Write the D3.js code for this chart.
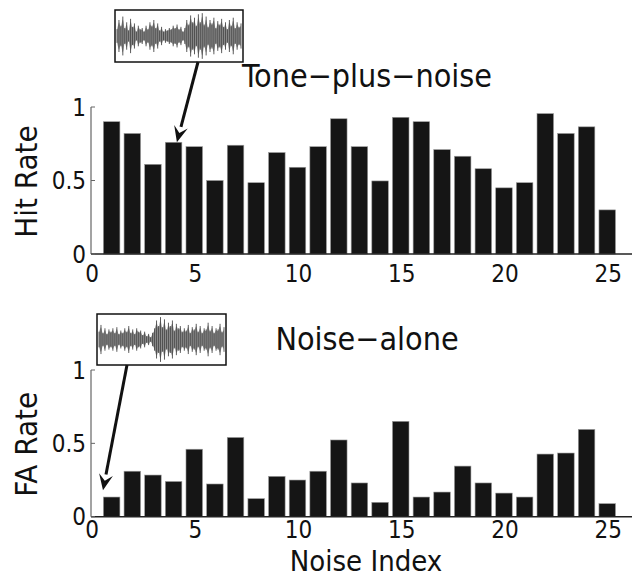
<!DOCTYPE html>
<html>
<head>
<meta charset="utf-8">
<script src="https://cdn.jsdelivr.net/npm/d3@7"></script>
<style>
  body { margin: 0; background: #fff; }
  text { font-family: "DejaVu Sans Condensed", "DejaVu Sans", sans-serif; font-stretch: condensed; fill: #111; }
</style>
</head>
<body>
<svg id="fig"></svg>
<script>
// figure: hit rate / FA rate par index de bruit

const noiseIndex = d3.range(1, 26);
const hitRate = [0.90, 0.82, 0.61, 0.76, 0.73, 0.50, 0.74, 0.485, 0.69, 0.59,
                 0.73, 0.92, 0.73, 0.497, 0.93, 0.90, 0.71, 0.665, 0.58, 0.45,
                 0.485, 0.955, 0.82, 0.865, 0.30];
const faRate = [0.134, 0.31, 0.284, 0.24, 0.46, 0.223, 0.54, 0.123, 0.275, 0.25,
                0.31, 0.523, 0.23, 0.098, 0.65, 0.134, 0.168, 0.345, 0.23, 0.161,
                0.134, 0.427, 0.434, 0.595, 0.089];
const xTicks = [0, 5, 10, 15, 20, 25];
const yTicks = [0, 0.5, 1];

// enveloppes des signaux (miniatures), lues à l'oeil
const waveTone = [0.3,0.7,0.45,0.85,0.35,0.6,0.25,0.75,0.4,0.55,0.2,0.45,0.3,0.35,
                  0.2,0.45,0.3,0.6,0.45,0.7,0.35,0.55,0.25,0.4,0.2,0.3,0.25,0.35,
                  0.3,0.45,0.35,0.5,0.3,0.4,0.2,0.35,0.7,0.5,0.9,0.6,0.8,0.45,0.95,
                  0.6,1.0,0.5,0.85,0.4,0.7,0.55,0.8,0.35,0.65,0.5,0.75,0.4,0.6,0.3,0.7,
                  0.45,0.8,0.35,0.6,0.4,0.55];
const waveNoise = [0.35,0.65,0.3,0.5,0.25,0.45,0.35,0.5,0.3,0.55,0.25,0.4,0.3,0.5,
                   0.35,0.6,0.3,0.45,0.25,0.5,0.35,0.4,0.2,0.35,0.15,0.25,0.1,0.3,0.5,0.85,
                   0.6,1.0,0.55,0.9,0.45,0.75,0.6,0.85,0.4,0.7,0.5,0.6,0.35,0.5,0.4,0.65,
                   0.3,0.55,0.45,0.7,0.35,0.6,0.3,0.5,0.45,0.75,0.4,0.6,0.3,0.5,0.45,0.7,
                   0.35,0.55];

const W = 632, H = 577;
const svg = d3.select("#fig").attr("width", W).attr("height", H);

const x = d3.scaleLinear().domain([0, 26.2]).range([91, 632]);
const barW = 0.8 * (x(1) - x(0));

function panel(values, y0, y1, label, title, titleY, tickY, box, tip) {
  const y = d3.scaleLinear().domain([0, 1]).range([y0, y1]);
  const g = svg.append("g");

  g.selectAll("rect")
    .data(values)
    .enter().append("rect")
    .attr("x", (d, i) => x(noiseIndex[i]) - barW / 2)
    .attr("y", d => y(d))
    .attr("width", barW)
    .attr("height", d => y(0) - y(d))
    .attr("fill", "#151515")
    .attr("stroke", "#9a9a9a")
    .attr("stroke-width", 0.6);

  // axes façon matlab
  g.append("line")
    .attr("x1", x(0)).attr("x2", x(0)).attr("y1", y(0)).attr("y2", y(1))
    .attr("stroke", "#666").attr("stroke-width", 1.2);
  g.append("line")
    .attr("x1", x(0)).attr("x2", W).attr("y1", y(0)).attr("y2", y(0))
    .attr("stroke", "#222").attr("stroke-width", 1.5);

  g.selectAll(".yt").data(yTicks).enter().append("line")
    .attr("x1", x(0)).attr("x2", x(0) + 4)
    .attr("y1", d => y(d)).attr("y2", d => y(d))
    .attr("stroke", "#666");
  g.selectAll(".ytl").data(yTicks).enter().append("text")
    .attr("x", 86).attr("y", d => y(d)).attr("dy", "0.36em")
    .attr("text-anchor", "end").attr("font-size", 24)
    .text(d => d);

  g.selectAll(".xtl").data(xTicks).enter().append("text")
    .attr("x", d => x(d) + 1).attr("y", tickY)
    .attr("text-anchor", "middle").attr("font-size", 24)
    .text(d => d);

  g.append("text")
    .attr("transform", `translate(37,${(y(0) + y(1)) / 2 + 1}) rotate(-90)`)
    .attr("text-anchor", "middle").attr("font-size", 31)
    .text(label);

  g.append("text")
    .attr("x", 367).attr("y", titleY)
    .attr("text-anchor", "middle").attr("font-size", 32)
    .text(title);

  // miniature du signal
  const wave = box.wave;
  const wx = d3.scaleLinear().domain([0, wave.length - 1]).range([box.x + 2, box.x + box.w - 2]);
  const wy = d3.scaleLinear().domain([-1.05, 1.05]).range([box.y + box.h - 2, box.y + 2]);
  g.append("rect")
    .attr("x", box.x).attr("y", box.y).attr("width", box.w).attr("height", box.h)
    .attr("fill", "#fff").attr("stroke", "#111").attr("stroke-width", 1.5);
  g.append("path")
    .datum(wave)
    .attr("d", d3.area().x((d, i) => wx(i)).y0(d => wy(-d * 0.85)).y1(d => wy(d * 0.85)).curve(d3.curveCardinal))
    .attr("fill", "#8c8c8c");
  g.selectAll(".sp").data(wave).enter().append("line")
    .attr("x1", (d, i) => wx(i)).attr("x2", (d, i) => wx(i))
    .attr("y1", d => wy(-d)).attr("y2", d => wy(d))
    .attr("stroke", "#4a4a4a").attr("stroke-width", 0.9);

  // flèche vers la barre
  const sx = box.ax, sy = box.y + box.h;
  const tx = x(tip[0]), ty = y(tip[1]);
  const ang = Math.atan2(ty - sy, tx - sx);
  const hl = 16, hw = 7;
  const bx = tx - hl * Math.cos(ang), by = ty - hl * Math.sin(ang);
  g.append("line")
    .attr("x1", sx).attr("y1", sy).attr("x2", bx).attr("y2", by)
    .attr("stroke", "#111").attr("stroke-width", 3);
  g.append("path")
    .attr("d", `M${tx},${ty} L${bx - hw * Math.sin(ang)},${by + hw * Math.cos(ang)} L${tx - 0.6 * hl * Math.cos(ang)},${ty - 0.6 * hl * Math.sin(ang)} L${bx + hw * Math.sin(ang)},${by - hw * Math.cos(ang)} Z`)
    .attr("fill", "#111");
}

panel(hitRate, 254, 107, "Hit Rate", "Tone\u2212plus\u2212noise", 87, 282,
      {x: 115, y: 10, w: 128, h: 52, ax: 198, wave: waveTone}, [4.16, 0.76]);
panel(faRate, 516.7, 370, "FA Rate", "Noise\u2212alone", 350, 538,
      {x: 97, y: 314, w: 129, h: 51, ax: 127, wave: waveNoise}, [0.58, 0.18]);

svg.append("text")
  .attr("x", 366).attr("y", 571)
  .attr("text-anchor", "middle").attr("font-size", 29)
  .text("Noise Index");
</script>
</body>
</html>
